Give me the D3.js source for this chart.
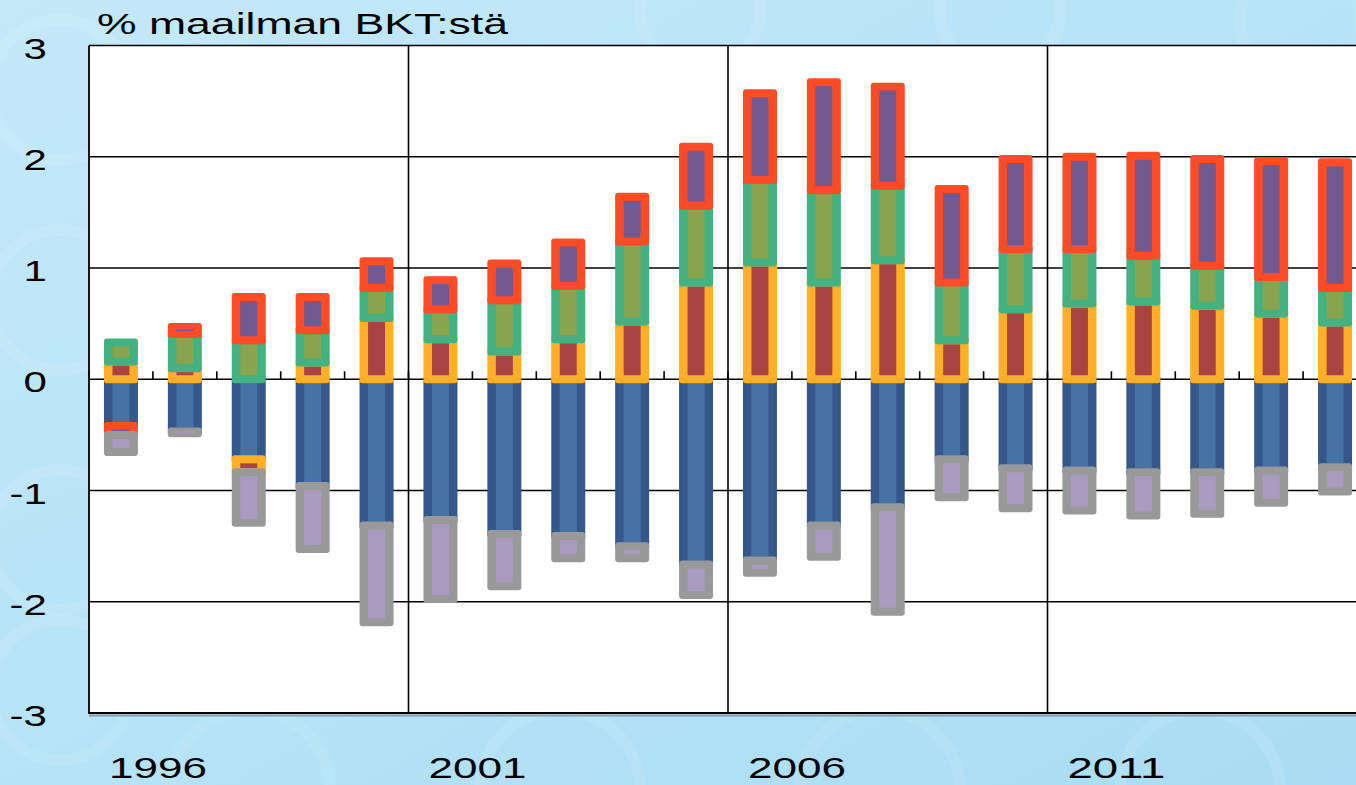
<!DOCTYPE html>
<html><head><meta charset="utf-8">
<script src="https://cdn.jsdelivr.net/npm/d3@7"></script>
<style>html,body{margin:0;padding:0;overflow:hidden;background:#b8e4f7}</style>
</head><body><svg id="c" width="1356" height="785"></svg>
<script>
// ---- data ----
const years = [1996,1997,1998,1999,2000,2001,2002,2003,2004,2005,2006,2007,2008,2009,2010,2011,2012,2013,2014,2015];
const seriesBlue   = [-0.42,-0.47,-0.72,-0.96,-1.315,-1.265,-1.39,-1.41,-1.50,-1.665,-1.63,-1.315,-1.15,-0.72,-0.80,-0.82,-0.835,-0.835,-0.82,-0.79];
const seriesOrange = [0.16,0.10,-0.115,0.15,0.55,0.36,0.25,0.36,0.52,0.87,1.05,0.87,1.07,0.35,0.63,0.68,0.70,0.66,0.59,0.51];
const seriesGreen  = [0.17,0.31,0.35,0.29,0.27,0.27,0.46,0.48,0.72,0.69,0.74,0.83,0.67,0.52,0.54,0.49,0.41,0.36,0.33,0.31];
const seriesRed    = [-0.08,0.06,0.39,0.30,0.24,0.26,0.33,0.39,0.40,0.53,0.78,0.97,0.89,0.84,0.81,0.83,0.90,0.96,1.04,1.13];
const seriesGrey   = [-0.155,-0.015,-0.455,-0.565,-0.87,-0.71,-0.47,-0.20,-0.11,-0.275,-0.11,-0.28,-0.94,-0.34,-0.36,-0.36,-0.39,-0.375,-0.29,-0.22];
const yTicks = [-3,-2,-1,0,1,2,3];
const xLabelYears = [1996,2001,2006,2011];
const majorYears = [2001,2006,2011];
const titleText = "% maailman BKT:stä";

const keys = ["blue","orange","green","red","grey"];
const valuesByKey = {blue:seriesBlue, orange:seriesOrange, green:seriesGreen, red:seriesRed, grey:seriesGrey};
const borderColor = {blue:"#36578a", orange:"#fdb026", green:"#43b181", red:"#ff4b26", grey:"#999999"};
const fillColor   = {blue:"#4672a6", orange:"#a84544", green:"#88a44c", red:"#725a90", grey:"#a99abf"};

const table = years.map((y,i)=>{ const o={year:y}; keys.forEach(k=>o[k]=valuesByKey[k][i]); return o; });

// ---- layout ----
const svg = d3.select("#c");
const W = 1356, H = 785;
const x = d3.scaleBand().domain(years).range([89, 1367]).padding(0);
const y = d3.scaleLinear().domain([-3,3]).range([713, 45.5]);

// background
const defs = svg.append("defs");
const lg = defs.append("linearGradient").attr("id","bg").attr("x1","0").attr("y1","0").attr("x2","1").attr("y2","1");
lg.append("stop").attr("offset","0").attr("stop-color","#c4e9f9");
lg.append("stop").attr("offset","0.5").attr("stop-color","#b6e3f7");
lg.append("stop").attr("offset","1").attr("stop-color","#a9dcf4");
svg.append("rect").attr("width",W).attr("height",H).attr("fill","url(#bg)");
// faint watermark arcs
const wm = svg.append("g").attr("fill","none").attr("stroke","#ffffff").attr("stroke-opacity",0.09).attr("stroke-width",12);
[[60,90,70],[60,300,70],[60,540,70],[60,690,70],[250,790,80],[560,790,80],[880,790,80],[1200,790,80],[700,10,60],[1000,10,60],[1300,20,60]].forEach(([cx,cy,r])=>{
  wm.append("circle").attr("cx",cx).attr("cy",cy).attr("r",r);
});

// plot area
svg.append("rect").attr("x",89).attr("y",y(3)).attr("width",W-89).attr("height",y(-3)-y(3)).attr("fill","#ffffff");

// gridlines
const grid = svg.append("g").attr("stroke","#000").attr("stroke-width",1.6);
yTicks.filter(t=>t!==-3).forEach(t=>{
  grid.append("line").attr("x1",89).attr("x2",W).attr("y1",y(t)).attr("y2",y(t));
});
majorYears.forEach(yr=>{
  grid.append("line").attr("x1",x(yr)).attr("x2",x(yr)).attr("y1",y(3)).attr("y2",y(-3));
});
// category ticks on zero line
years.forEach(yr=>{
  grid.append("line").attr("x1",x(yr)).attr("x2",x(yr)).attr("y1",y(0)).attr("y2",y(0)-8);
});

// stacked bars
const stack = d3.stack().keys(keys).offset(d3.stackOffsetDiverging);
const layers = stack(table);
const barW = 34, innerW = 17, pad = 4;
const cx = d=> x(d.data.year) + x.bandwidth()/2;
layers.forEach(layer=>{
  const k = layer.key;
  const g = svg.append("g");
  const segs = layer.filter(d=> Math.abs(d[1]-d[0])>1e-9);
  g.selectAll("rect.o").data(segs).join("rect").attr("class","o")
    .attr("x",d=>cx(d)-barW/2).attr("width",barW)
    .attr("y",d=>y(Math.max(d[0],d[1]))-pad)
    .attr("height",d=>Math.abs(y(d[0])-y(d[1]))+2*pad)
    .attr("rx",3).attr("fill",borderColor[k]);
  g.selectAll("rect.i").data(segs).join("rect").attr("class","i")
    .attr("x",d=>cx(d)-innerW/2).attr("width",innerW)
    .attr("y",d=>{const h=Math.abs(y(d[0])-y(d[1])); const ih=Math.max(h-2*pad,1.5); return y(Math.max(d[0],d[1]))+ (h-ih)/2;})
    .attr("height",d=>{const h=Math.abs(y(d[0])-y(d[1])); return Math.max(h-2*pad,1.5);})
    .attr("fill",fillColor[k]);
});

// axes lines
svg.append("line").attr("x1",89).attr("x2",89).attr("y1",y(3)).attr("y2",y(-3)+1).attr("stroke","#000").attr("stroke-width",1.8);
svg.append("line").attr("x1",89).attr("x2",W).attr("y1",y(-3)+2.5).attr("y2",y(-3)+2.5).attr("stroke","#8a9aa6").attr("stroke-width",2);
svg.append("line").attr("x1",89).attr("x2",W).attr("y1",y(-3)).attr("y2",y(-3)).attr("stroke","#000").attr("stroke-width",2.2);

// y tick labels
const font = "'Liberation Sans', Arial, sans-serif";
yTicks.forEach(t=>{
  svg.append("text").attr("transform",`translate(47,${y(t)+13}) scale(1.45,1)`)
    .attr("text-anchor","end").attr("font-family",font).attr("font-size",29).attr("fill","#000")
    .text(t);
});
// x labels
xLabelYears.forEach(yr=>{
  svg.append("text").attr("x", x(yr)+x.bandwidth()+5).attr("y",778)
    .attr("text-anchor","middle").attr("font-family",font).attr("font-size",29).attr("fill","#000")
    .attr("textLength",98).attr("lengthAdjust","spacingAndGlyphs")
    .text(yr);
});
// title
svg.append("text").attr("x",97).attr("y",34).attr("font-family",font).attr("font-size",29).attr("fill","#000")
  .attr("textLength",411).attr("lengthAdjust","spacingAndGlyphs").text(titleText);
</script></body></html>
